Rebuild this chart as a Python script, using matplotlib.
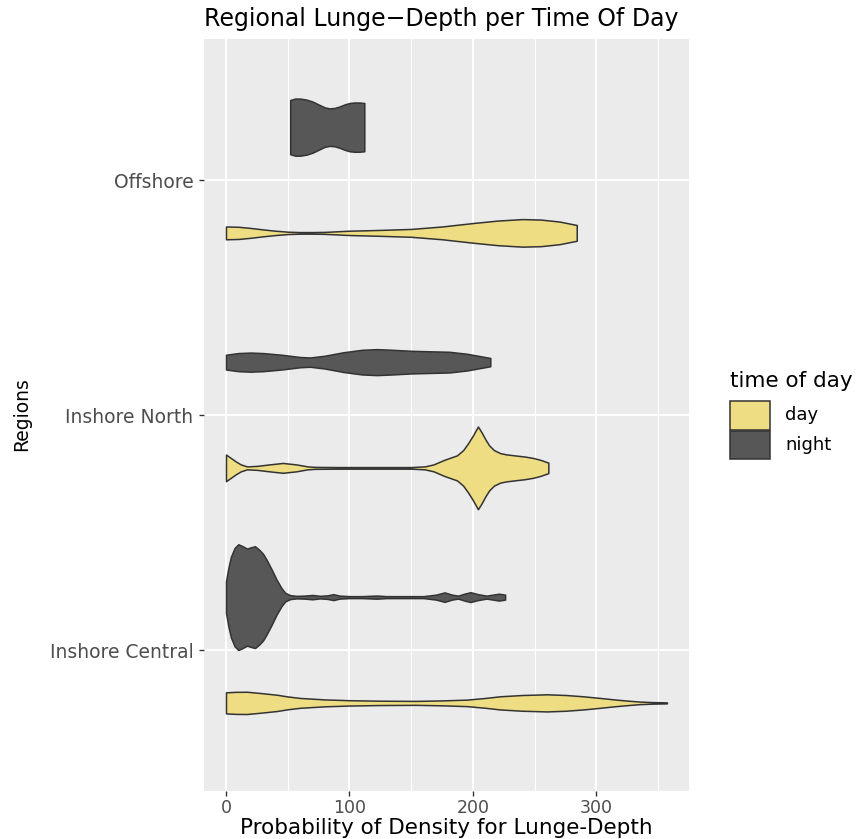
import matplotlib
matplotlib.use("Agg")
import matplotlib.pyplot as plt
from matplotlib.patches import Rectangle

# Regions on the vertical axis (bottom to top) and the two dodged groups
regions = ["Inshore Central", "Inshore North", "Offshore"]
times = ["day", "night"]
fill_colors = {"day": "#EEDD82", "night": "#575757"}
edge_color = "#333333"

# Violin outlines: lunge depth along the axis and the density at that depth
# (densities share one arbitrary scale, so the widest violin sets the width)
central_day_depth = [0, 8, 17, 28, 41, 50, 60, 80, 100, 125, 154, 175, 195, 210,
                     222, 240, 260, 275, 289, 303, 316, 326, 335, 345, 357]
central_day_density = [10.7, 11.2, 11.3, 10, 8.3, 6.5, 5, 3.5, 2.7, 2.2, 2, 2.5, 3.3, 5,
                       6.7, 8, 8.7, 8, 6.7, 5, 3.3, 2.2, 1.3, 0.8, 0.5]

central_night_depth = [0, 2, 4, 7, 10, 13, 17, 20, 23.5, 27, 30, 33, 37, 41, 45, 48, 52,
                       57, 63, 70, 76, 82, 87, 92, 100, 110, 122, 130, 145, 160, 170,
                       177, 183, 188, 193, 198, 204, 211, 216, 221, 226]
central_night_density = [16, 30, 41, 50, 53.7, 52, 49.3, 50.5, 51.7, 48, 44, 37.7, 28, 17.7,
                         9, 4.3, 2, 1.3, 1.5, 2.2, 1.3, 1.8, 3, 1.5, 1, 1, 1.6, 1, 1, 1,
                         2.5, 4.8, 2.5, 1.5, 3.5, 5, 3, 1.5, 2.5, 3.5, 2.5]

north_day_depth = [0, 4, 8, 12, 17, 25, 35, 46, 57, 66, 72, 90, 120, 150, 161, 168, 177,
                   187, 192, 196, 200, 204, 207, 210, 213, 217, 222, 227, 235, 242, 249,
                   255, 261]
north_day_density = [13.5, 10, 6.5, 3.5, 1.5, 2, 3.5, 5, 3.5, 1.5, 1, 0.8, 0.8, 0.8, 1.5,
                     3.5, 8.3, 12.7, 18, 25, 33, 42, 36, 29, 23, 18, 15, 13.7, 12.5, 11.5,
                     10, 8, 5.3]

north_night_depth = [0, 10, 20, 30, 45, 60, 68, 80, 95, 110, 122, 135, 150, 165, 181,
                     195, 203, 214]
north_night_density = [7.5, 9.2, 9.7, 9.2, 7.5, 5.2, 4.7, 6.5, 10, 12.5, 13.2, 12.5, 11.5,
                       11, 10.5, 8.5, 6.7, 4.2]

offshore_day_depth = [0, 10, 20, 30, 40, 50, 60, 70, 80, 100, 125, 150, 175, 200, 220,
                      240, 255, 270, 284]
offshore_day_density = [6.5, 6.2, 5, 3.5, 2.2, 1.2, 0.8, 0.8, 1.0, 2.2, 3, 4, 6.5, 10,
                        12.5, 14, 13.5, 11.5, 8]

offshore_night_depth = [52, 56, 60, 65, 70, 75, 80, 84, 88, 92, 96, 100, 104, 108, 112]
offshore_night_density = [27.5, 29, 29, 28, 26, 23, 20, 19, 19.5, 21, 23, 24.5, 25, 25, 24.5]

violins = {
    ("Inshore Central", "day"): (central_day_depth, central_day_density),
    ("Inshore Central", "night"): (central_night_depth, central_night_density),
    ("Inshore North", "day"): (north_day_depth, north_day_density),
    ("Inshore North", "night"): (north_night_depth, north_night_density),
    ("Offshore", "day"): (offshore_day_depth, offshore_day_density),
    ("Offshore", "night"): (offshore_night_depth, offshore_night_density),
}

x_ticks = [0, 100, 200, 300]
x_minor = [50, 150, 250, 350]

W, H = 861, 839
fig = plt.figure(figsize=(W / 100, H / 100), dpi=100)
ax = fig.add_axes([204 / W, 1 - 791 / H, (689 - 204) / W, (791 - 39) / H])
ax.set_facecolor("#EBEBEB")
for s in ax.spines.values():
    s.set_visible(False)

dodge = 0.225
max_half = 0.225
max_density = max(max(d) for _, d in violins.values())

for (region, t), (depth, dens) in violins.items():
    yc = regions.index(region) + 1 + (-dodge if t == "day" else dodge)
    half = [max_half * v / max_density for v in dens]
    lower = [yc - h for h in half]
    upper = [yc + h for h in half]
    ax.fill_between(depth, lower, upper, facecolor=fill_colors[t],
                    edgecolor=edge_color, linewidth=1.1, zorder=3)

ax.set_xlim(-17.8, 374.9)
ax.set_ylim(0.4, 3.6)
ax.set_xticks(x_ticks)
ax.set_xticks(x_minor, minor=True)
ax.set_yticks(range(1, len(regions) + 1))
ax.set_yticklabels(regions)
ax.set_axisbelow(True)
ax.grid(which="major", color="white", linewidth=1.4)
ax.grid(which="minor", axis="x", color="white", linewidth=0.8)
ax.tick_params(which="major", length=3.5, width=1.0, color=edge_color,
               labelcolor="#4D4D4D")
ax.tick_params(axis="y", which="major", labelsize=13.5, pad=4)
ax.tick_params(axis="x", which="major", labelsize=12.5, pad=2)
ax.tick_params(which="minor", length=0)

# Titles
fig.text(204 / W, 1 - 26 / H, "Regional Lunge\u2212Depth per Time Of Day",
         fontsize=17, ha="left", va="baseline", color="black")
fig.text(446 / W, 1 - 834 / H, "Probability of Density for Lunge-Depth",
         fontsize=15.5, ha="center", va="baseline", color="black")
fig.text(22 / W, 1 - 414 / H, "Regions", fontsize=13.5, rotation=90,
         ha="center", va="center", color="black")

# Legend
fig.text(730 / W, 1 - 381 / H, "time of day", fontsize=15.5, ha="left",
         va="center", color="black")
key_tops = [401, 431]
for t, top in zip(times, key_tops):
    fig.patches.append(Rectangle((730 / W, 1 - (top + 28.5) / H), 40 / W, 28.5 / H,
                                 transform=fig.transFigure, facecolor=fill_colors[t],
                                 edgecolor=edge_color, linewidth=1.1))
    fig.text(785 / W, 1 - (top + 14.5) / H, t, fontsize=13, ha="left",
             va="center", color="black")

fig.savefig("out.png", dpi=100)
